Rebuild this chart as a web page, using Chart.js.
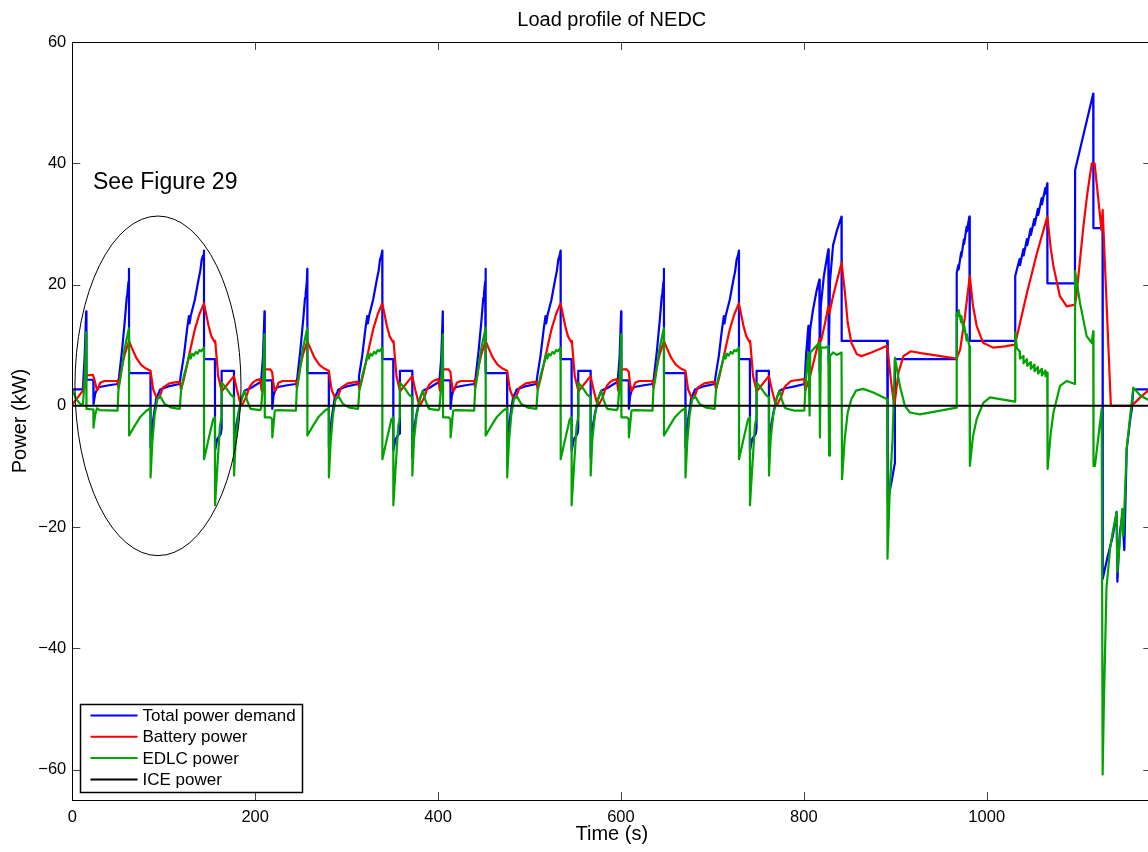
<!DOCTYPE html>
<html>
<head>
<meta charset="utf-8">
<title>Load profile of NEDC</title>
<script src="https://cdn.jsdelivr.net/npm/chart.js@4.4.1/dist/chart.umd.min.js"></script>
<style>
	html, body { margin: 0; padding: 0; background: #fff; overflow: hidden; }
	#wrap { width: 1160px; height: 852px; }
</style>
</head>
<body>
<div id="wrap"><canvas id="nedcChart" width="1160" height="852"></canvas></div>
<script>
// 축 눈금
var xTickValues = [0, 200, 400, 600, 800, 1000];
var yTickValues = [-60, -40, -20, 0, 20, 40, 60];

// ECE 도시 주행 사이클 시작 시각 (s)
var cycleStarts = [0, 195, 390, 585];
var firstCycleSplit = 30; // 첫 사이클은 30 s 까지 별도 데이터 사용

// 첫 사이클 초반 [t, kW]
var firstCycleTotal = [[0,2.7],[11.5,2.7],[13.5,8.0],[15.2,15.6],[15.5,4.3],[23,4.3],[23.2,0.3],[25,2.0],[28,3.0]];
var firstCycleBattery = [[0,0.2],[12,2.6],[14,5.0],[22.5,5.1],[23.5,4.7],[27,2.6],[28,2.7]];
var firstCycleEdlc = [[0,2.7],[4,1.2],[8,0.4],[11.5,0.1],[13.5,4.0],[15.2,12.1],[15.5,-0.5],[23,-0.6],[23.2,-3.6],[25,-1.5],[27,-0.4]];

// ECE 사이클 (사이클 내부 시각 t, kW)
var eceTotal = [[0,2.9],[5,3.4],[10.5,3.9],[11.5,4.1],[13.5,8.0],[15.2,15.6],[15.5,4.2],[23.5,4.2],[23.7,-0.5],[25,1.6],[27,2.7],[30,3.1],[40,3.4],[49.5,3.6],
	[51,4.6],[54.5,9.3],[57.5,14.2],[59.5,17.8],[60.2,18.5],[61.5,20.5],[62,22.6],[62.1,5.4],[85.5,5.4],[85.6,-6.8],[88.5,-2.2],[92,1.4],[95,2.3],[96,2.7],[105,3.2],[117.5,3.6],
	[118.5,4.9],[122,8.2],[125.5,12.6],[127.5,14.8],[128.3,13.6],[129.5,14.8],[134,17.5],[138,20.8],[140,22.3],[141.5,24.1],[143,24.8],[144,25.6],[144.1,7.7],[156,7.7],
	[156.1,-7.4],[158.5,-5.5],[162.5,-4.6],[163.2,-3.8],[163.3,5.75],[176.8,5.75],[176.9,-8.5],[179,-3.5],[181.5,-1.3],[185,1.1],[188.5,2.5],[191,2.7]];
var eceBattery = [[0,3.4],[3,3.9],[6,4.2],[10.5,4.4],[12,2.5],[13.5,4.5],[15.5,6.0],[21.5,6.0],[23.5,5.6],[25,3.6],[26.5,2.5],[27.5,2.6],[30.5,3.8],[35,4.1],[49.5,4.1],
	[50.5,3.0],[53,5.5],[57,8.3],[62,10.7],[65,9.6],[70,7.9],[75,6.8],[80,6.2],[85.5,5.8],[88.5,2.7],[92,1.4],[95,1.3],[99,3.0],[106,3.7],[117.5,4.0],
	[119,2.7],[122,4.4],[126,7.1],[130,9.9],[134,12.6],[139,15.1],[144,16.9],[149,13.2],[152,11.5],[156,10.4],[156.3,10.7],[159.5,4.9],[163.5,2.4],[176.8,4.9],
	[180,2.7],[183.5,0.6],[186,0.2],[190.5,1.6],[193,2.8]];
var eceEdlc = [[0,-0.5],[10.5,-0.7],[11.5,-0.4],[13.5,3.5],[15.2,11.8],[15.5,-1.9],[21.5,-1.9],[23.5,-2.2],[23.7,-5.2],[24.5,-4.0],[26.5,-0.8],[30,-0.7],[49.5,-0.8],
	[50.5,2.7],[53,4.9],[57,9.3],[60.5,11.8],[62,12.8],[62.1,-4.9],[67,-3.6],[74,-1.9],[81,-0.8],[85.5,-0.4],[85.6,-11.8],[87.5,-6.0],[90,-1.6],[93,1.1],[96,1.6],[101,0.3],[108,-0.3],[117.5,-0.5],
	[119,2.7],[122,4.9],[126,7.1],[128,8.5],[129.5,7.8],[131,8.6],[133,8.3],[135,8.9],[137,8.6],[139,9.2],[141,9.0],[144,9.6],[144.1,-8.8],[149,-5.5],[154,-2.2],[156,-1.9],
	[156.1,-16.4],[158.5,-10.4],[161.5,-3.3],[163.2,-1.9],[163.4,3.8],[168,3.0],[173,1.9],[176.8,1.4],[176.9,-11.5],[178.7,-5.5],[181.5,-1.6],[185,1.1],[188.5,2.5],[191,1.0],[194,-0.2]];

// EUDC 교외 주행 구간 (절대 시각 t, kW)
var eudcTotal = [[780,2.9],[790,3.2],[800.8,3.6],[802.5,8.5],[805,13.2],[805.6,7.0],[806.8,12.5],[810,15.8],[814,19.0],[817,20.8],[817.4,5.5],[818.6,16.5],[822,21.5],
	[826.8,25.8],[827.2,7.1],[828.6,20.5],[832,26.5],[836,28.8],[839,30.2],[841.2,31.2],[841.4,10.7],[891.2,10.7],[891.8,-15.6],[896,-12.5],[899.3,-9.6],[899.6,7.7],[967,7.7],
	[967.2,21.9],[969,23.2],[969.3,22.5],[972,25.3],[972.3,24.6],[975,27.4],[975.3,26.7],[978,29.5],[978.3,28.8],[981,31.2],[981.5,10.7],[1031,10.7],
	[1031.2,21.4],[1033,22.5],[1036,24.2],[1036.4,23.2],[1040,25.8],[1040.4,24.8],[1044,27.5],[1044.4,26.5],[1048,29.2],[1048.4,28.2],[1052,30.8],[1052.4,29.8],
	[1056,32.5],[1056.4,31.5],[1060,34.2],[1060.4,33.2],[1064,35.9],[1064.4,35.0],[1066.2,36.7],[1066.4,20.2],[1096.5,20.2],[1096.7,38.9],[1116.5,51.5],[1116.7,29.3],
	[1126.7,29.3],[1126.9,-28.5],[1132,-25],[1138,-21.4],[1142.1,-17.5],[1142.9,-29.0],[1145.5,-21],[1148.3,-18.1],[1150.5,-23.8],[1153.1,-7.1],[1157,-2.2],[1158.8,-0.5],
	[1160.2,2.7],[1180,2.7]];
var eudcBattery = [[780,3.3],[786,4.1],[800.5,4.4],[801.5,2.5],[806,4.4],[810,6.8],[817,11.0],[819,10.8],[823,13.5],[826.8,16.4],[828,15.3],[832,18.1],[841.3,23.6],
	[845,18.6],[848,13.7],[852,10.4],[858,8.5],[863,8.2],[874,8.8],[891.2,9.9],[896,3.3],[899,0.0],[903.5,5.5],[909,8.2],[917,9.0],[928,8.7],[967.1,7.8],[971,9.3],[976,14.5],
	[981.5,21.4],[985,16.5],[989,13.2],[996,10.4],[1007,9.6],[1020,9.8],[1031,10.1],[1044,18.6],[1055,25.2],[1066.3,31.2],[1070,26],[1073,23.0],[1080,18.1],[1087.5,16.4],
	[1096.6,16.7],[1098,18],[1105.7,29.5],[1110,35],[1115,40.0],[1118,40.0],[1125.5,29.0],[1126.8,32.3],[1135.8,0.0],[1158.5,0.0],[1168,1.4],[1176.4,2.5],[1180,2.8]];
var eudcEdlc = [[780,-0.4],[790,-0.8],[800.5,-0.8],[802.5,5.0],[805,8.8],[806.3,-1.6],[807,8.8],[812,9.6],[817,10.4],[817.6,-5.2],[818.6,9.6],[824,9.6],[826.8,9.9],
	[827.6,-8.2],[828.6,8.2],[832,8.8],[836,8.4],[841.2,8.8],[841.8,-12.1],[844.7,-5.5],[848,-1.1],[852,1.1],[857,2.5],[865,2.8],[876,2.2],[891.2,1.1],[891.5,-25.2],
	[894,-13.7],[897,-5.5],[899.7,7.9],[905,3.3],[910.5,0.0],[916,-1.1],[927,-1.4],[967,-0.3],[967.2,15.3],[969,14.8],[969.3,15.8],[972,13.8],[972.3,14.8],[975,12.3],
	[975.3,13.3],[978,10.8],[978.3,11.8],[981,9.9],[981.6,-9.9],[985,-5.0],[989,-2.2],[996.3,0.5],[1003.6,1.4],[1014.5,1.1],[1031,0.7],[1031.2,12.1],[1033,9.5],[1036,9.0],
	[1036.3,7.8],[1040,8.2],[1040.3,7.0],[1044,7.7],[1044.3,6.6],[1048,7.2],[1048.3,6.1],[1052,6.8],[1052.3,5.7],[1056,6.4],[1056.3,5.3],[1060,6.1],[1060.3,5.0],
	[1064,5.8],[1064.3,4.9],[1066.2,5.5],[1066.6,-10.4],[1070,-4.5],[1073,-1.1],[1080.2,3.3],[1087.5,4.1],[1096.5,3.6],[1096.7,22.2],[1102,17.0],[1109.3,11.5],[1114.8,10.4],
	[1116.5,12.3],[1116.8,-9.9],[1118.4,-9.9],[1125.7,-0.5],[1126.8,-60.8],[1128,-50.0],[1131,-30.0],[1134.9,-23.6],[1137.8,-20.8],[1142.1,-17.5],[1142.9,-27.4],
	[1148.3,-17.0],[1149.4,-21.4],[1153.1,-7.1],[1157,-1.5],[1160.4,3.0],[1168,1.7],[1176.4,1.0],[1180,0.8]];

// 엔진 출력 (전 구간 0)
var iceTime = [0, 1180];
var icePower = [0, 0];

// 범례 항목
var seriesNames = ['Total power demand', 'Battery power', 'EDLC power', 'ICE power'];
var seriesColors = ['#0000ff', '#ff0000', '#00a300', '#000000'];

// 주석 (타원 + 텍스트)
var calloutText = 'See Figure 29';
var calloutTextAt = [22.6, 36.8];
var calloutCenter = [93.7, 3.3];
var calloutRadii = [90.8, 28.0];

var FONT = '"Liberation Sans", Arial, Helvetica, sans-serif';

// 사이클 데이터를 이어 붙여 하나의 시계열로 만든다
function buildSeries(firstPart, cycle, eudcPart) {
	var pts = [];
	firstPart.forEach(function(p) { pts.push({ x: p[0], y: p[1] }); });
	cycleStarts.forEach(function(start, k) {
		cycle.forEach(function(p) {
			if (k === 0 && p[0] < firstCycleSplit) return;
			pts.push({ x: start + p[0], y: p[1] });
		});
	});
	eudcPart.forEach(function(p) { pts.push({ x: p[0], y: p[1] }); });
	return pts;
}

var icePoints = iceTime.map(function(t, i) { return { x: t, y: icePower[i] }; });

// 테두리, 안쪽 눈금, 타원, 범례 그리기
var nedcDecor = {
	id: 'nedcDecor',
	afterDraw: function(chart) {
		var ctx = chart.ctx, area = chart.chartArea;
		var xs = chart.scales.x, ys = chart.scales.y;
		var tick = 8;
		ctx.save();

		// 눈금
		ctx.strokeStyle = '#444';
		ctx.lineWidth = 1;
		ctx.beginPath();
		xTickValues.forEach(function(v) {
			var px = Math.round(xs.getPixelForValue(v)) + 0.5;
			ctx.moveTo(px, area.bottom); ctx.lineTo(px, area.bottom - tick);
			ctx.moveTo(px, area.top); ctx.lineTo(px, area.top + tick);
		});
		yTickValues.forEach(function(v) {
			var py = Math.round(ys.getPixelForValue(v)) + 0.5;
			ctx.moveTo(area.left, py); ctx.lineTo(area.left + tick, py);
			ctx.moveTo(area.right, py); ctx.lineTo(area.right - tick, py);
		});
		ctx.stroke();

		// 축 테두리
		ctx.strokeStyle = '#000';
		ctx.strokeRect(Math.round(area.left) + 0.5, Math.round(area.top) + 0.5,
			Math.round(area.right - area.left), Math.round(area.bottom - area.top));

		// 타원
		var cx = xs.getPixelForValue(calloutCenter[0]);
		var cy = ys.getPixelForValue(calloutCenter[1]);
		var rx = Math.abs(xs.getPixelForValue(calloutCenter[0] + calloutRadii[0]) - cx);
		var ry = Math.abs(ys.getPixelForValue(calloutCenter[1] + calloutRadii[1]) - cy);
		ctx.beginPath();
		ctx.ellipse(cx, cy, rx, ry, 0, 0, Math.PI * 2);
		ctx.stroke();

		// 주석 텍스트
		ctx.fillStyle = '#000';
		ctx.font = '23px ' + FONT;
		ctx.textAlign = 'left';
		ctx.textBaseline = 'middle';
		ctx.fillText(calloutText, xs.getPixelForValue(calloutTextAt[0]), ys.getPixelForValue(calloutTextAt[1]));

		// 범례
		var bx = Math.round(area.left + 8) + 0.5;
		var bw = 222, bh = 88;
		var by = Math.round(area.bottom - 8 - bh) + 0.5;
		ctx.fillStyle = '#fff';
		ctx.fillRect(bx, by, bw, bh);
		ctx.lineWidth = 1.5;
		ctx.strokeStyle = '#000';
		ctx.strokeRect(bx, by, bw, bh);
		ctx.font = '17px ' + FONT;
		for (var i = 0; i < seriesNames.length; i++) {
			var ry2 = by + 11 + i * 21.3;
			ctx.strokeStyle = seriesColors[i];
			ctx.lineWidth = 2;
			ctx.beginPath();
			ctx.moveTo(bx + 10, ry2); ctx.lineTo(bx + 57, ry2);
			ctx.stroke();
			ctx.fillStyle = '#000';
			ctx.fillText(seriesNames[i], bx + 62, ry2 + 1);
		}
		ctx.restore();
	}
};

var ctx = document.getElementById('nedcChart').getContext('2d');
var nedcChart = new Chart(ctx, {
	type: 'line',
	data: {
		datasets: [
			{ label: seriesNames[3], data: icePoints, borderColor: seriesColors[3], borderWidth: 2, order: 0 },
			{ label: seriesNames[2], data: buildSeries(firstCycleEdlc, eceEdlc, eudcEdlc), borderColor: seriesColors[2], borderWidth: 2.2, order: 1 },
			{ label: seriesNames[1], data: buildSeries(firstCycleBattery, eceBattery, eudcBattery), borderColor: seriesColors[1], borderWidth: 2.2, order: 2 },
			{ label: seriesNames[0], data: buildSeries(firstCycleTotal, eceTotal, eudcTotal), borderColor: seriesColors[0], borderWidth: 2.2, order: 3 }
		]
	},
	options: {
		responsive: false,
		animation: false,
		events: [],
		layout: { padding: { left: 0, right: 8.7, top: 0, bottom: 0 } },
		elements: {
			point: { radius: 0 },
			line: { tension: 0, fill: false, borderJoinStyle: 'round' }
		},
		plugins: {
			legend: { display: false },
			tooltip: { enabled: false },
			title: {
				display: true,
				fullSize: false,
				text: 'Load profile of NEDC',
				color: '#000',
				font: { family: FONT, size: 20, weight: 'normal' },
				padding: { top: 8, bottom: 10 }
			}
		},
		scales: {
			x: {
				type: 'linear',
				min: 0,
				max: 1180,
				grid: { display: false, drawTicks: false },
				border: { display: false },
				afterBuildTicks: function(scale) {
					scale.ticks = xTickValues.map(function(v) { return { value: v }; });
				},
				afterFit: function(scale) { scale.height = 52; },
				ticks: {
					color: '#000',
					padding: 8,
					maxRotation: 0,
					font: { family: FONT, size: 16.5 },
					callback: function(v) { return String(v); }
				},
				title: {
					display: true,
					text: 'Time (s)',
					color: '#000',
					font: { family: FONT, size: 20 },
					padding: { top: 0, bottom: 6 }
				}
			},
			y: {
				type: 'linear',
				min: -65,
				max: 60,
				grid: { display: false, drawTicks: false },
				border: { display: false },
				afterBuildTicks: function(scale) {
					scale.ticks = yTickValues.map(function(v) { return { value: v }; });
				},
				afterFit: function(scale) { scale.width = 72.3; },
				ticks: {
					color: '#000',
					padding: 6,
					font: { family: FONT, size: 16.5 },
					callback: function(v) { return v < 0 ? '\u2212' + Math.abs(v) : String(v); }
				},
				title: {
					display: true,
					text: 'Power (kW)',
					color: '#000',
					font: { family: FONT, size: 20 },
					padding: { top: 8, bottom: 0 }
				}
			}
		}
	},
	plugins: [nedcDecor]
});
</script>
</body>
</html>
